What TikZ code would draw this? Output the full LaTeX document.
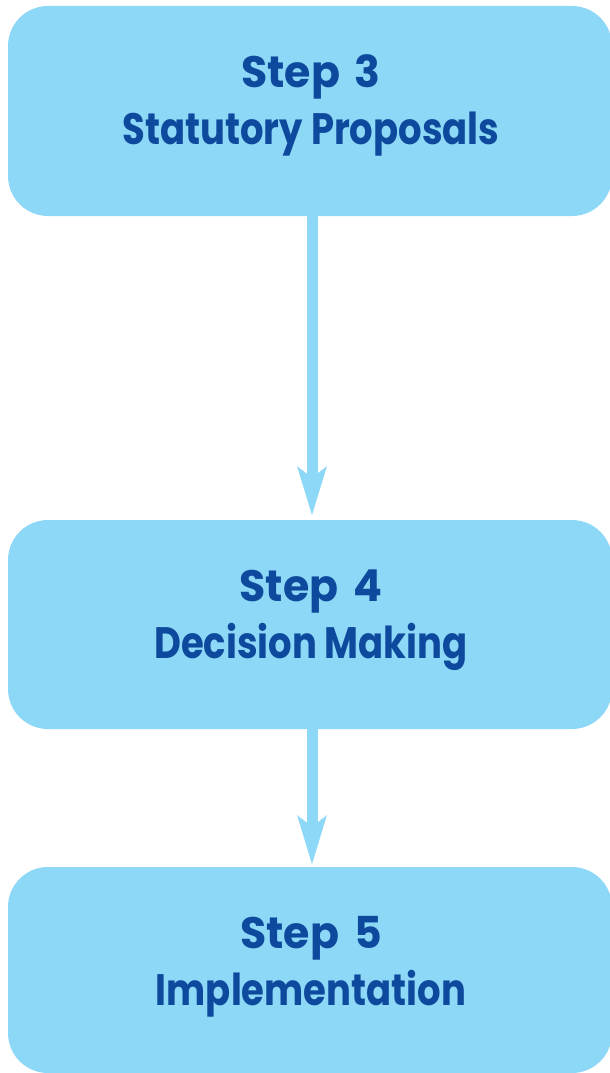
\documentclass[tikz,border=0pt]{standalone}
\usepackage{fontspec}
\setmainfont{Poppins}
\newfontfamily\stepfont{Poppins}[FakeStretch=0.84]
\newfontfamily\stepnumfont{Poppins}[FakeStretch=0.97]
\usetikzlibrary{arrows.meta}
\definecolor{boxfill}{HTML}{8DD8F6}
\definecolor{txtblue}{HTML}{0D4A9E}
\begin{document}
\begin{tikzpicture}[x=1pt,y=-1pt,
  stepbox/.style={fill=boxfill, draw=none, rounded corners=40pt, minimum width=604pt, inner sep=0pt},
  steptext/.style={text=txtblue, align=center, anchor=base, inner sep=0pt, font=\stepfont\fontsize{44}{57}\selectfont\bfseries},
  flowarrow/.style={draw=boxfill, line width=11pt, -{Stealth[length=48pt,width=28pt,inset=10pt]}}]
\useasboundingbox (0,0) rectangle (610,1073);
\node[stepbox, minimum height=210pt] (s3) at (310,111) {};
\node[stepbox, minimum height=209pt] (s4) at (310,624.5) {};
\node[stepbox, minimum height=206pt] (s5) at (310,970) {};
\node[steptext] (t3) at (311,144) {{\stepnumfont\bfseries Step\hspace{15pt}3}\\Statutory Proposals};
\node[steptext] (t4) at (311,658) {{\stepnumfont\bfseries Step\hspace{15pt}4}\\Decision Making};
\node[steptext] (t5) at (311,1005) {{\stepnumfont\bfseries Step\hspace{15pt}5}\\Implementation};
\draw[flowarrow] ([xshift=2pt]s3.south) -- ([xshift=2pt,yshift=4pt]s4.north);
\draw[flowarrow] ([xshift=2pt]s4.south) -- ([xshift=2pt,yshift=2pt]s5.north);
\end{tikzpicture}
\end{document}
